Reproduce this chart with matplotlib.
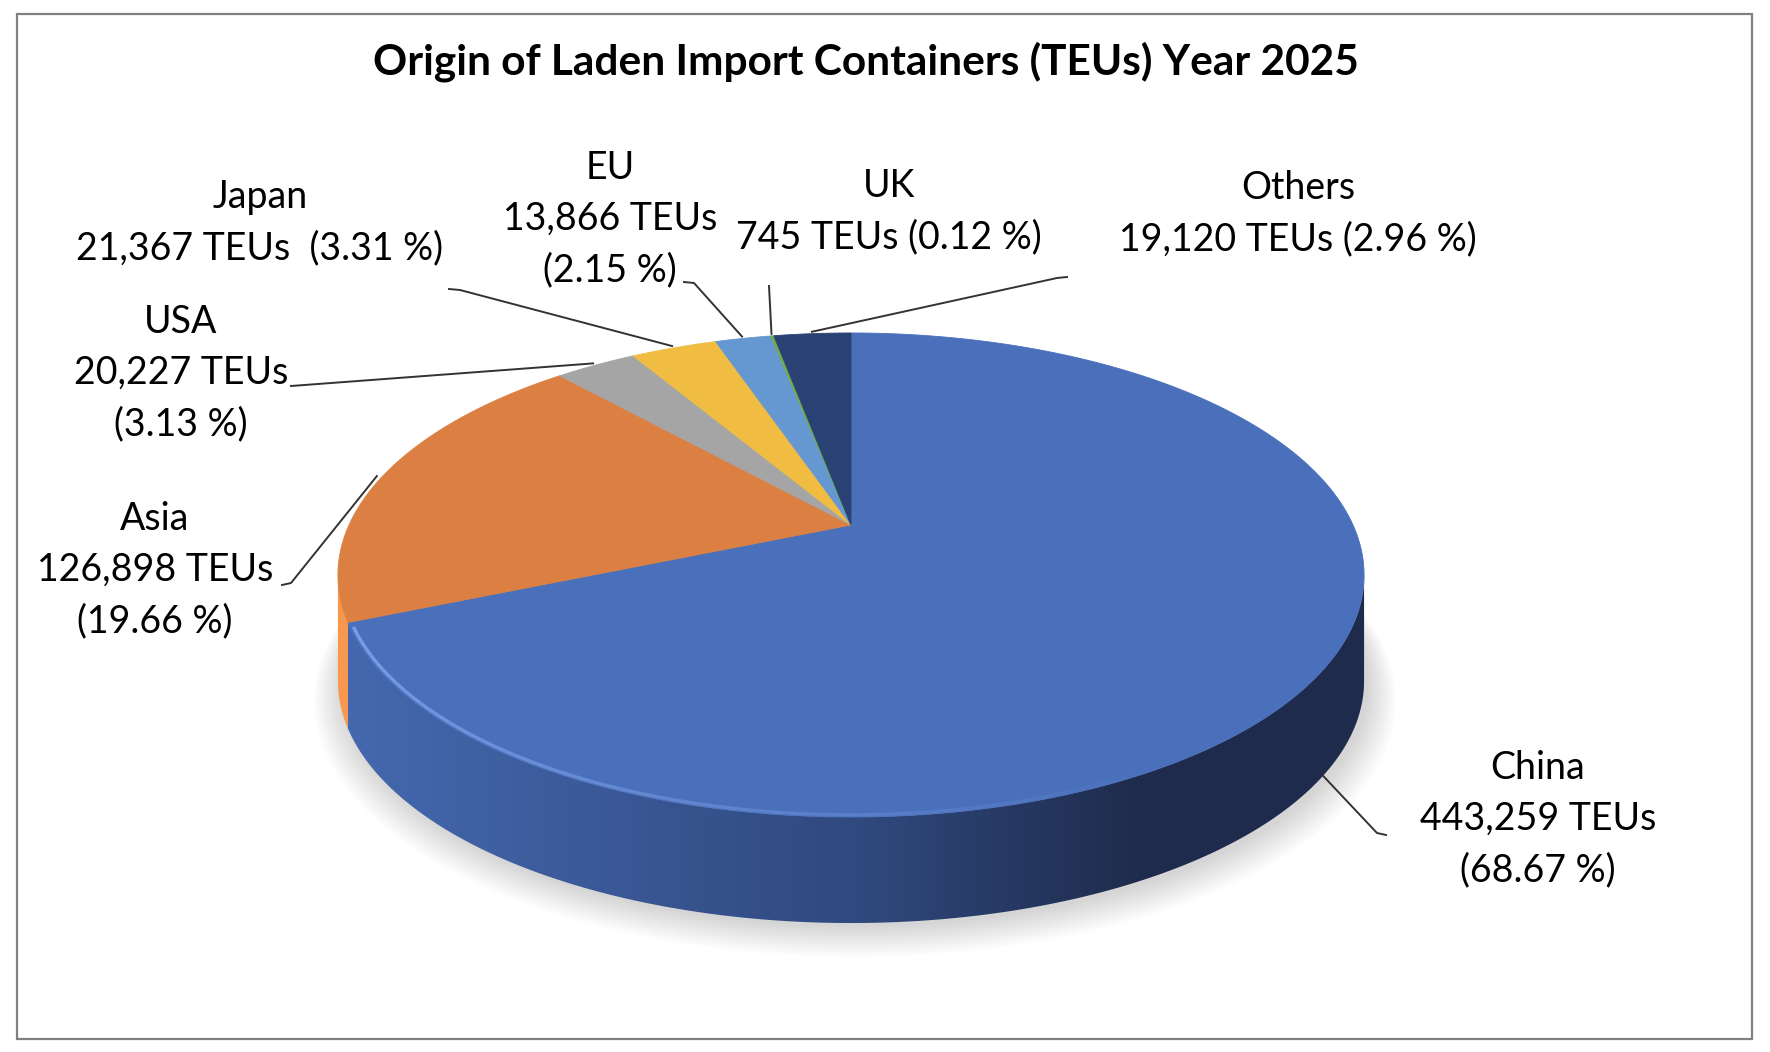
import numpy as np
import matplotlib.pyplot as plt
from matplotlib.patches import Polygon, Rectangle

plt.rcParams['font.family'] = ['Lato', 'DejaVu Sans']

# Datos del gráfico (orden de dibujo: sentido horario desde las 12)
regions = ["China", "Asia", "USA", "Japan", "EU", "UK", "Others"]
teus = [443259, 126898, 20227, 21367, 13866, 745, 19120]
shares = [68.67, 19.66, 3.13, 3.31, 2.15, 0.12, 2.96]
title = "Origin of Laden Import Containers (TEUs) Year 2025"

top_colors = ["#4A70BB", "#DB8042", "#A5A5A5", "#F0BD42", "#6598D0", "#70AD47", "#2A4273"]

# separador entre "TEUs" y el porcentaje
seps = {"Japan": "  ", "UK": " ", "Others": " "}

# posición de las etiquetas (centro del bloque) y del inicio de la línea guía
label_xy = {"China": (1538, 819), "Asia": (155, 570), "USA": (181, 373),
            "Japan": (260, 223), "EU": (610, 219), "UK": (889, 212),
            "Others": (1298, 214)}
leader_start = {"China": [(1386, 835), (1377, 833)],
                "Asia": [(282, 585), (291, 583)],
                "USA": [(291, 386)],
                "Japan": [(449, 289), (460, 290)],
                "EU": [(684, 282), (694, 283)],
                "UK": [(769, 286)],
                "Others": [(1067, 277), (1057, 278)]}

# Geometría de la "tarta 3D" en perspectiva
CX, CY = 851, 525
A, B, K = 502, 231.7, 0.2066
DEPTH = 106


def rim(t, r=1.0, dz=0.0):
    X, Y = r * np.cos(t), r * np.sin(t)
    w = 1 + K * Y
    return CX + A * X / w, CY - B * Y / w + dz


fig = plt.figure(figsize=(17.7, 10.52), dpi=100)
ax = fig.add_axes([0, 0, 1, 1])

total = sum(teus)
cum = np.concatenate([[0], np.cumsum(teus)]) / total
t_start = np.radians(90 - 360 * cum[:-1])
t_end = np.radians(90 - 360 * cum[1:])

# sombra suave
tt = np.linspace(0, 2 * np.pi, 300)
for s in range(14):
    x, y = rim(tt, 1.0 + s * 0.004, DEPTH + 4 + s * 0.8)
    ax.add_patch(Polygon(np.column_stack([x + 4, y]), closed=True,
                         facecolor="#808080", edgecolor="none", alpha=0.025, zorder=1))

# caras laterales visibles
front_a = np.radians(-180 + np.degrees(np.arcsin(K)))
front_b = np.radians(-np.degrees(np.arcsin(K)))
side_grad = {
    "China": [(0.0, (0.27, 0.41, 0.69)), (0.5, (0.19, 0.29, 0.50)),
              (0.78, (0.12, 0.17, 0.30)), (1.0, (0.12, 0.17, 0.30))],
    "Asia": [(0.0, (0.97, 0.60, 0.30)), (1.0, (0.85, 0.47, 0.20))],
}
x0, x1 = CX - 515, CX + 515
for i, name in enumerate(regions):
    a = max(t_end[i], front_a)
    b = min(t_start[i], front_b)
    if a >= b:
        continue
    ts = np.linspace(a, b, 200)
    xt, yt = rim(ts)
    xb, yb = rim(ts[::-1], dz=DEPTH)
    poly = Polygon(np.column_stack([np.r_[xt, xb], np.r_[yt, yb]]), closed=True,
                   facecolor="none", edgecolor="none")
    ax.add_patch(poly)
    stops = side_grad.get(name, [(0.0, (0.3, 0.3, 0.3)), (1.0, (0.3, 0.3, 0.3))])
    u = np.linspace(0, 1, 400)
    pos = [p for p, _ in stops]
    rgb = np.stack([np.interp(u, pos, [c[k] for _, c in stops]) for k in range(3)], axis=-1)
    im = ax.imshow(rgb[None, :, :], extent=(x0, x1, 960, 300), aspect="auto",
                   interpolation="bilinear", zorder=2)
    im.set_clip_path(poly)

# caras superiores
for i, name in enumerate(regions):
    ts = np.linspace(t_start[i], t_end[i], max(3, int(abs(t_end[i] - t_start[i]) * 120)))
    xs, ys = rim(ts)
    pts = np.column_stack([np.r_[CX, xs], np.r_[CY, ys]])
    ax.add_patch(Polygon(pts, closed=True, facecolor=top_colors[i],
                         edgecolor=top_colors[i], lw=0.6, zorder=3))

# brillo del borde frontal (se desvanece hacia la derecha)
ts = np.linspace(t_end[0] + 0.02, np.radians(-60), 60)
xh, yh = rim(ts, 0.994)
for j in range(len(ts) - 1):
    fade = 1 - j / (len(ts) - 1)
    ax.plot(xh[j:j + 2], yh[j:j + 2], color="#80A4EC", lw=2.4,
            alpha=0.9 * fade, zorder=4, solid_capstyle="butt")

# líneas guía
for i, name in enumerate(regions):
    tm = 0.5 * (t_start[i] + t_end[i])
    if name == "China":
        px, py = rim(tm, dz=DEPTH)
    else:
        px, py = rim(tm, 1.012)
    pts = leader_start[name] + [(px, py)]
    ax.plot([p[0] for p in pts], [p[1] for p in pts], color="#333333", lw=1.4, zorder=5)

# etiquetas
for i, name in enumerate(regions):
    sep = seps.get(name, "\n")
    txt = f"{name}\n{teus[i]:,} TEUs{sep}({shares[i]:.2f} %)"
    lx, ly = label_xy[name]
    ax.text(lx, ly, txt, ha="center", va="center", multialignment="center",
            fontsize=27, linespacing=1.53, color="#000000", zorder=6)

ax.text(866, 62, title, ha="center", va="center", fontsize=30.5,
        fontweight="bold", color="#000000")

# marco
ax.add_patch(Rectangle((17, 14), 1735, 1025, facecolor="none",
                       edgecolor="#808080", lw=1.6, zorder=7))

ax.set_xlim(0, 1770)
ax.set_ylim(1052, 0)
ax.axis("off")

fig.savefig("out.png", dpi=100)
